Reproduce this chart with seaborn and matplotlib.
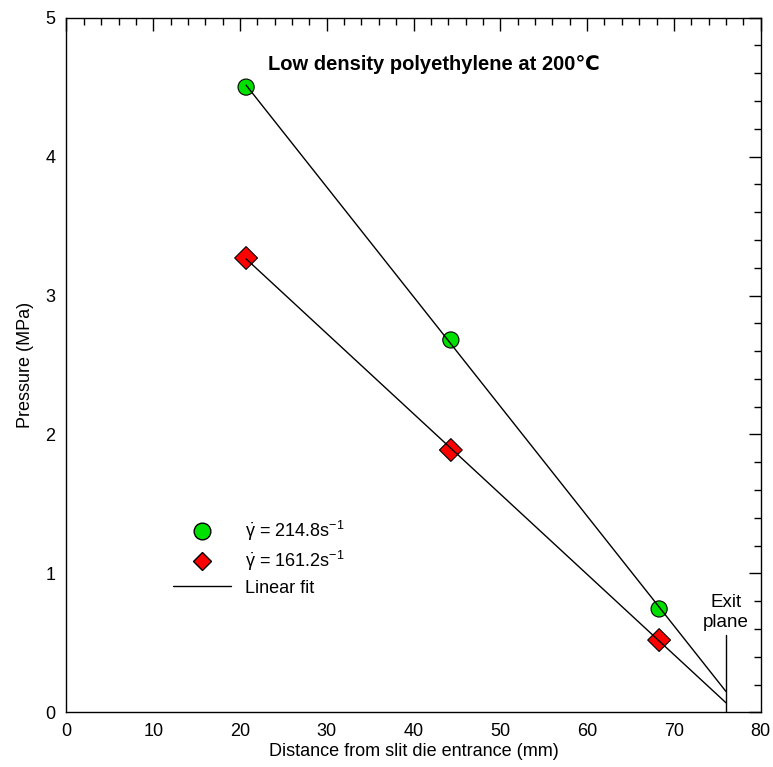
import numpy as np
import pandas as pd
import matplotlib
matplotlib.use("Agg")
import matplotlib.pyplot as plt
import seaborn as sns
from matplotlib.lines import Line2D
from matplotlib.ticker import MultipleLocator

# data
distance = [20.7, 44.3, 68.3]
p_214 = [4.50, 2.68, 0.744]
p_161 = [3.27, 1.888, 0.52]
exit_plane = 76.0
title = "Low density polyethylene at 200\u2103"
labels = [r"$\dot{\mathrm{\gamma}}$ = 214.8s$^{-1}$", r"$\dot{\mathrm{\gamma}}$ = 161.2s$^{-1}$", "Linear fit"]

sns.set_style("white")
plt.rcParams['font.family'] = ['Liberation Sans', 'DejaVu Sans']
plt.rcParams['mathtext.fontset'] = 'custom'
plt.rcParams['mathtext.rm'] = 'Liberation Sans'
plt.rcParams['mathtext.it'] = 'Liberation Sans:italic'
for key in ['text.color', 'axes.labelcolor', 'xtick.color', 'ytick.color']:
    plt.rcParams[key] = 'black'

df = pd.DataFrame({'x': distance * 2, 'p': p_214 + p_161,
                   'rate': ['214.8'] * 3 + ['161.2'] * 3})

fig = plt.figure(figsize=(7.73, 7.67), dpi=100)
ax = fig.add_axes([0.086, 0.0713, 0.898, 0.9057])

sns.scatterplot(data=df, x='x', y='p', hue='rate', style='rate',
                palette={'214.8': '#00e000', '161.2': '#ff0000'},
                markers={'214.8': 'o', '161.2': 'D'},
                s=135, edgecolor='black', linewidth=0.8, legend=False, ax=ax, zorder=2)

# linear fits, from first point out to the exit plane
for ys in [p_214, p_161]:
    k, b = np.polyfit(distance, ys, 1)
    xs = np.array([distance[0], exit_plane])
    sns.lineplot(x=xs, y=k * xs + b, color='black', linewidth=1, ax=ax, zorder=3)

ax.plot([exit_plane, exit_plane], [0, 0.555], color='black', linewidth=1)
ax.text(exit_plane, 0.585, "Exit\nplane", ha='center', va='bottom', fontsize=13.5, linespacing=1.2)

ax.text(0.29, 0.933, title, transform=ax.transAxes, ha='left', va='center',
        fontsize=14.5, fontweight='bold')

ax.set_xlim(0, 80)
ax.set_ylim(0, 5)
ax.xaxis.set_major_locator(MultipleLocator(10))
ax.xaxis.set_minor_locator(MultipleLocator(2))
ax.yaxis.set_major_locator(MultipleLocator(1))
ax.yaxis.set_minor_locator(MultipleLocator(0.2))
ax.tick_params(which='both', direction='in', top=True, right=True, labelsize=13, width=1, color='black')
ax.tick_params(which='major', length=9, pad=8)
ax.tick_params(which='minor', length=5)
for sp in ax.spines.values():
    sp.set_color('black')
    sp.set_linewidth(1)
ax.set_xlabel("Distance from slit die entrance (mm)", fontsize=13, labelpad=2)
ax.set_ylabel("Pressure (MPa)", fontsize=13, labelpad=8)

handles = [Line2D([], [], marker='o', ls='', markerfacecolor='#00e000', markeredgecolor='black', markersize=12),
           Line2D([], [], marker='D', ls='', markerfacecolor='#ff0000', markeredgecolor='black', markersize=9.5),
           Line2D([], [], color='black', linewidth=1)]
ax.legend(handles, labels, loc='upper left', bbox_to_anchor=(0.13, 0.302), frameon=False,
          fontsize=13, handlelength=3.2, handletextpad=0.8, labelspacing=0.35)

fig.savefig("out.png", dpi=100)
